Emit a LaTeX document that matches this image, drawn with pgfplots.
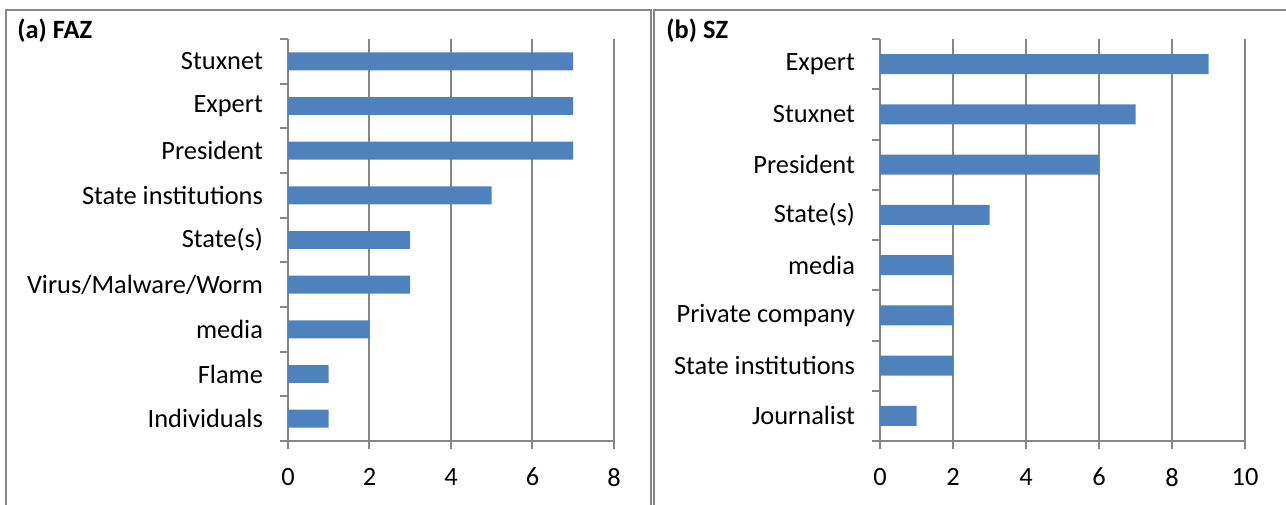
\documentclass[border=0pt]{standalone}
\usepackage{fontspec}
\setmainfont{Carlito}
\usepackage{pgfplots}
\pgfplotsset{compat=1.18}
\definecolor{barblue}{HTML}{4F81BD}
\definecolor{axgray}{HTML}{868686}

% shared look of both Excel-style bar panels
\pgfplotsset{
  excelbar/.style={
    scale only axis, anchor=south west,
    height=201pt,
    xbar, bar width=0.4,
    xmin=0,
    axis x line*=bottom, axis y line*=left,
    axis line style={axgray, line width=1pt},
    tick align=outside,
    major tick length=4pt, minor tick length=4pt,
    tick style={axgray, line width=1pt},
    every major y tick/.append style={draw=none},
    xmajorgrids, major grid style={axgray, line width=1pt},
    ticklabel style={font=\fontsize{13.2}{15}\selectfont, text=black},
    /pgf/number format/assume math mode=true,
    xticklabel style={yshift=-6pt},
    yticklabel style={xshift=-5pt},
  }
}

\begin{document}
\begin{tikzpicture}
\clip (0,0) rectangle (643pt,252pt);

% panel frames
\draw[axgray, line width=1pt] (3pt,-3pt) -- (3pt,247pt) -- (325.5pt,247pt) -- (325.5pt,-3pt);
\draw[axgray, line width=1pt] (327pt,-3pt) -- (327pt,247pt) -- (650pt,247pt);

\node[anchor=west, inner sep=0pt, font=\fontsize{13.2}{15}\selectfont\bfseries] at (8.5pt,236.5pt) {(a) FAZ};
\node[anchor=west, inner sep=0pt, font=\fontsize{13.2}{15}\selectfont\bfseries] at (333pt,236.5pt) {(b) SZ};

% (a) FAZ
\begin{axis}[excelbar,
    at={(144pt,31.5pt)}, width=163pt,
    xmax=8, xtick={0,2,...,8},
    ymin=-0.5, ymax=8.5,
    ytick={0,...,8},
    yticklabels={Individuals,Flame,media,Virus/Malware/Worm,State(s),State institutions,President,Expert,Stuxnet},
    minor ytick={-0.5,0.5,...,8.5},
]
\addplot[fill=barblue, draw=none] coordinates {
  (1,0) (1,1) (2,2) (3,3) (3,4) (5,5) (7,6) (7,7) (7,8)
};
\end{axis}

% (b) SZ
\begin{axis}[excelbar,
    at={(440pt,31.5pt)}, width=182.5pt,
    xmax=10, xtick={0,2,...,10},
    ymin=-0.5, ymax=7.5,
    ytick={0,...,7},
    yticklabels={Journalist,State institutions,Private company,media,State(s),President,Stuxnet,Expert},
    minor ytick={-0.5,0.5,...,7.5},
]
\addplot[fill=barblue, draw=none] coordinates {
  (1,0) (2,1) (2,2) (2,3) (3,4) (6,5) (7,6) (9,7)
};
\end{axis}
\end{tikzpicture}
\end{document}
